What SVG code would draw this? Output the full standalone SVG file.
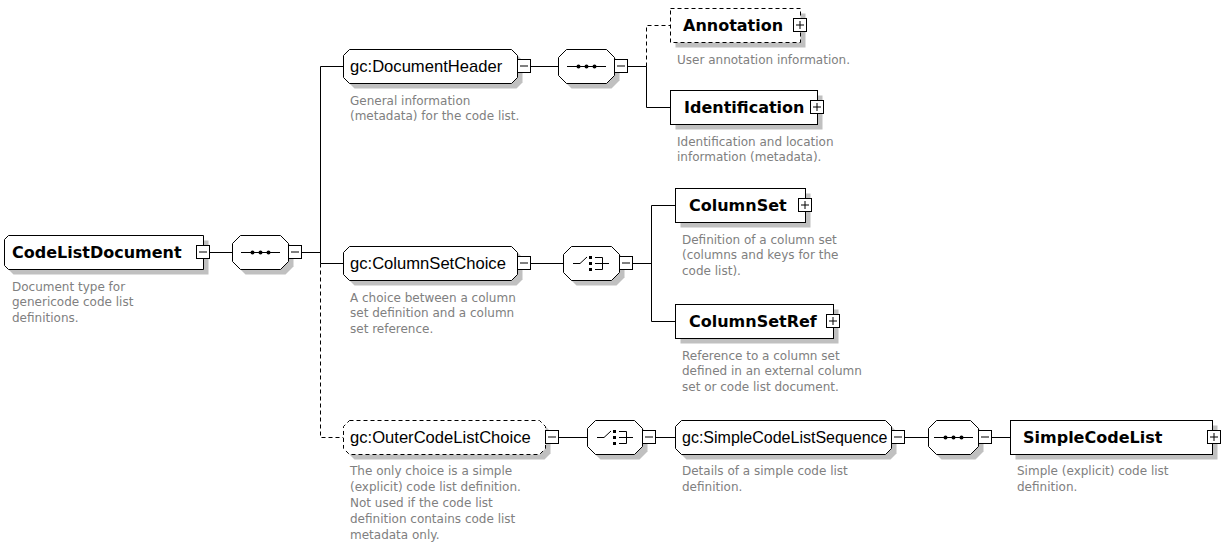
<svg xmlns="http://www.w3.org/2000/svg" width="1225" height="552" viewBox="0 0 1225 552">
<style>
.bg{fill:#fff}
.box{fill:#fff;stroke:#000;stroke-width:1}
.dbox{fill:#fff;stroke:#000;stroke-width:1;stroke-dasharray:4 3}
.sh{fill:#c0c0c0;stroke:none}
.ln{stroke:#000;stroke-width:1;fill:none}
.dl{stroke:#000;stroke-width:1;fill:none;stroke-dasharray:4 3}
.tb{font-family:"DejaVu Sans",Verdana,sans-serif;font-weight:bold;font-size:16px;fill:#000}
.tr{font-family:"Liberation Sans",Arial,sans-serif;font-size:16.6px;fill:#000}
.tr.n{font-size:16px}
.td{font-family:"DejaVu Sans",Verdana,sans-serif;font-size:12px;fill:#808080}
</style>
<defs>
<g id="minus"><rect x="0.5" y="0.5" width="13" height="13" fill="#fff" stroke="#000"/><path d="M3 7H11" stroke="#000"/></g>
<g id="plus"><rect x="0.5" y="0.5" width="13" height="13" fill="#fff" stroke="#000"/><path d="M3 7H11M7 3V11" stroke="#000"/></g>
<g id="seq"><path d="M-19 0.5H20" stroke="#000" fill="none"/><circle cx="-7.5" cy="0.5" r="2"/><circle cx="0.5" cy="0.5" r="2"/><circle cx="8.5" cy="0.5" r="2"/></g>
<g id="cho"><path d="M-18 0.5H-11L-4 -6" stroke="#000" fill="none"/><rect x="-2" y="-7" width="3" height="3"/><rect x="-2" y="-1" width="3" height="3"/><rect x="-2" y="5" width="3" height="3"/><path d="M4 -5.5H11.5V6.5H4M4 0.5H18" stroke="#000" fill="none"/></g>
</defs>
<rect class="bg" x="0" y="0" width="1225" height="552"/>

<g id="connectors">
<path class="ln" d="M209.5 252.5H232.5M301.5 252.5H320.5M320.5 66.5V263.5M320.5 66.5H343.5M320.5 263.5H343.5"/>
<path class="dl" d="M320.5 263.5V437.5H343.5"/>
<path class="ln" d="M530.5 66.5H558.5M627.5 66.5H646.5M646.5 66.5V107.5H670.5"/>
<path class="dl" d="M646.5 66.5V25.5H670.5"/>
<path class="ln" d="M530.5 263.5H563.5M632.5 263.5H651.5M651.5 205.5V321.5M651.5 205.5H675.5M651.5 321.5H675.5"/>
<path class="ln" d="M558.5 437.5H587.5M655.5 437.5H675.5M904.5 437.5H928.5M991.5 437.5H1010.5"/>
</g>

<g id="CodeListDocument">
<path class="sh" d="M9.5,244.5 L13.5,240.5 H208.5 V274.5 H13.5 L9.5,270.5 Z"/>
<path class="box" d="M4.5,239.5 L8.5,235.5 H203.5 V269.5 H8.5 L4.5,265.5 Z"/>
<text class="tb" x="12" y="258">CodeListDocument</text>
<use href="#minus" x="196" y="245"/>
<text class="td" x="12" y="290.5">Document type for</text>
<text class="td" x="12" y="306">genericode code list</text>
<text class="td" x="12" y="321.5">definitions.</text>
</g>

<g id="seq1">
<path class="sh" d="M245.5,240.5 H285.5 L293.5,248.5 V266.5 L285.5,274.5 H245.5 L237.5,266.5 V248.5 Z"/>
<path class="box" d="M240.5,235.5 H280.5 L288.5,243.5 V261.5 L280.5,269.5 H240.5 L232.5,261.5 V243.5 Z"/>
<use href="#seq" x="260" y="252"/>
<use href="#minus" x="288" y="245"/>
</g>

<g id="DocumentHeader">
<path class="sh" d="M354.5,54.5 H516.5 L522.5,60.5 V82.5 L516.5,88.5 H354.5 L348.5,82.5 V60.5 Z"/>
<path class="box" d="M349.5,49.5 H511.5 L517.5,55.5 V77.5 L511.5,83.5 H349.5 L343.5,77.5 V55.5 Z"/>
<text class="tr" x="350" y="72">gc:DocumentHeader</text>
<use href="#minus" x="517" y="59"/>
<text class="td" x="350" y="104.5">General information</text>
<text class="td" x="350" y="120">(metadata) for the code list.</text>
</g>

<g id="seq2">
<path class="sh" d="M571.5,54.5 H611.5 L619.5,62.5 V80.5 L611.5,88.5 H571.5 L563.5,80.5 V62.5 Z"/>
<path class="box" d="M566.5,49.5 H606.5 L614.5,57.5 V75.5 L606.5,83.5 H566.5 L558.5,75.5 V57.5 Z"/>
<use href="#seq" x="586" y="66"/>
<use href="#minus" x="614" y="59"/>
</g>

<g id="Annotation">
<rect class="sh" x="675.5" y="13.5" width="130" height="34"/>
<rect class="dbox" x="670.5" y="8.5" width="130" height="34"/>
<text class="tb" x="683" y="31">Annotation</text>
<use href="#plus" x="793" y="18"/>
<text class="td" x="677" y="63.5">User annotation information.</text>
</g>

<g id="Identification">
<rect class="sh" x="675.5" y="95.5" width="147" height="34"/>
<rect class="box" x="670.5" y="90.5" width="147" height="34"/>
<text class="tb" x="684" y="113">Identification</text>
<use href="#plus" x="810" y="100"/>
<text class="td" x="677" y="145.5">Identification and location</text>
<text class="td" x="677" y="161">information (metadata).</text>
</g>

<g id="ColumnSetChoice">
<path class="sh" d="M354.5,251.5 H516.5 L522.5,257.5 V279.5 L516.5,285.5 H354.5 L348.5,279.5 V257.5 Z"/>
<path class="box" d="M349.5,246.5 H511.5 L517.5,252.5 V274.5 L511.5,280.5 H349.5 L343.5,274.5 V252.5 Z"/>
<text class="tr" x="350" y="269">gc:ColumnSetChoice</text>
<use href="#minus" x="517" y="256"/>
<text class="td" x="350" y="301.5">A choice between a column</text>
<text class="td" x="350" y="317">set definition and a column</text>
<text class="td" x="350" y="332.5">set reference.</text>
</g>

<g id="choice1">
<path class="sh" d="M576.5,251.5 H616.5 L624.5,259.5 V277.5 L616.5,285.5 H576.5 L568.5,277.5 V259.5 Z"/>
<path class="box" d="M571.5,246.5 H611.5 L619.5,254.5 V272.5 L611.5,280.5 H571.5 L563.5,272.5 V254.5 Z"/>
<use href="#cho" x="591" y="263"/>
<use href="#minus" x="619" y="256"/>
</g>

<g id="ColumnSet">
<rect class="sh" x="680.5" y="193.5" width="130" height="34"/>
<rect class="box" x="675.5" y="188.5" width="130" height="34"/>
<text class="tb" x="689" y="211">ColumnSet</text>
<use href="#plus" x="798" y="198"/>
<text class="td" x="682" y="243.5">Definition of a column set</text>
<text class="td" x="682" y="259">(columns and keys for the</text>
<text class="td" x="682" y="274.5">code list).</text>
</g>

<g id="ColumnSetRef">
<rect class="sh" x="680.5" y="309.5" width="158" height="34"/>
<rect class="box" x="675.5" y="304.5" width="158" height="34"/>
<text class="tb" x="689" y="327">ColumnSetRef</text>
<use href="#plus" x="826" y="314"/>
<text class="td" x="682" y="359.5">Reference to a column set</text>
<text class="td" x="682" y="375">defined in an external column</text>
<text class="td" x="682" y="390.5">set or code list document.</text>
</g>

<g id="OuterCodeListChoice">
<path class="sh" d="M354.5,425.5 H544.5 L550.5,431.5 V453.5 L544.5,459.5 H354.5 L348.5,453.5 V431.5 Z"/>
<path class="dbox" d="M349.5,420.5 H539.5 L545.5,426.5 V448.5 L539.5,454.5 H349.5 L343.5,448.5 V426.5 Z"/>
<text class="tr" x="350" y="443">gc:OuterCodeListChoice</text>
<use href="#minus" x="545" y="430"/>
<text class="td" x="350" y="474.5">The only choice is a simple</text>
<text class="td" x="350" y="490.5">(explicit) code list definition.</text>
<text class="td" x="350" y="506.5">Not used if the code list</text>
<text class="td" x="350" y="522.5">definition contains code list</text>
<text class="td" x="350" y="538.5">metadata only.</text>
</g>

<g id="choice2">
<path class="sh" d="M600.5,425.5 H639.5 L647.5,433.5 V451.5 L639.5,459.5 H600.5 L592.5,451.5 V433.5 Z"/>
<path class="box" d="M595.5,420.5 H634.5 L642.5,428.5 V446.5 L634.5,454.5 H595.5 L587.5,446.5 V428.5 Z"/>
<use href="#cho" x="615" y="437"/>
<use href="#minus" x="642" y="430"/>
</g>

<g id="SimpleCodeListSequence">
<path class="sh" d="M686.5,425.5 H890.5 L896.5,431.5 V453.5 L890.5,459.5 H686.5 L680.5,453.5 V431.5 Z"/>
<path class="box" d="M681.5,420.5 H885.5 L891.5,426.5 V448.5 L885.5,454.5 H681.5 L675.5,448.5 V426.5 Z"/>
<text class="tr n" x="682" y="443">gc:SimpleCodeListSequence</text>
<use href="#minus" x="891" y="430"/>
<text class="td" x="682" y="474.5">Details of a simple code list</text>
<text class="td" x="682" y="490.5">definition.</text>
</g>

<g id="seq3">
<path class="sh" d="M941.5,425.5 H975.5 L983.5,433.5 V451.5 L975.5,459.5 H941.5 L933.5,451.5 V433.5 Z"/>
<path class="box" d="M936.5,420.5 H970.5 L978.5,428.5 V446.5 L970.5,454.5 H936.5 L928.5,446.5 V428.5 Z"/>
<use href="#seq" x="953" y="437"/>
<use href="#minus" x="978" y="430"/>
</g>

<g id="SimpleCodeList">
<rect class="sh" x="1015.5" y="425.5" width="202" height="34"/>
<rect class="box" x="1010.5" y="420.5" width="202" height="34"/>
<text class="tb" x="1023" y="443">SimpleCodeList</text>
<use href="#plus" x="1207" y="430"/>
<text class="td" x="1017" y="474.5">Simple (explicit) code list</text>
<text class="td" x="1017" y="490.5">definition.</text>
</g>
</svg>
